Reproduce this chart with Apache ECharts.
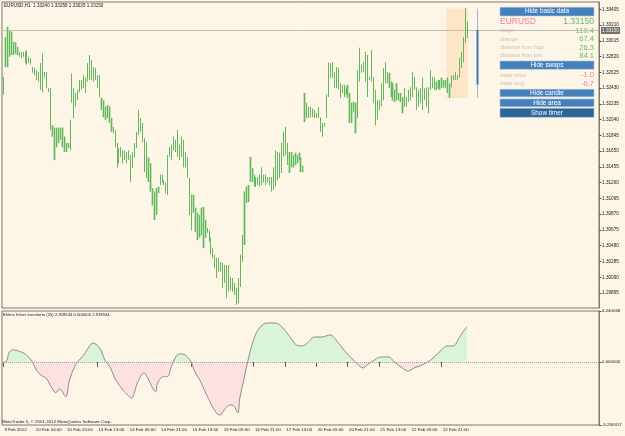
<!DOCTYPE html>
<html>
<head>
<meta charset="utf-8">
<title>EURUSD,H1</title>
<script src="https://cdn.jsdelivr.net/npm/echarts@6/dist/echarts.min.js"></script>
<style>
  html, body { margin: 0; padding: 0; background: #fdf5e6; }
  #chart { width: 625px; height: 436px; }
</style>
</head>
<body>
<div id="chart"></div>
<script>
// H1 bars, 9 Feb 2012 12:00 .. 23 Feb 2012 10:00 (high / low)
const highs = [
  1.3257, 1.3306, 1.3319, 1.3315, 1.3313, 1.3300, 1.3300, 1.3294, 1.3288, 1.3288,
  1.3288, 1.3288, 1.3290, 1.3282, 1.3280, 1.3269, 1.3268, 1.3265, 1.3263, 1.3274,
  1.3286, 1.3263, 1.3263, 1.3243, 1.3243, 1.3197, 1.3194, 1.3194, 1.3194, 1.3194,
  1.3194, 1.3183, 1.3175, 1.3175, 1.3204, 1.3261, 1.3243, 1.3237, 1.3241, 1.3253,
  1.3253, 1.3259, 1.3256, 1.3274, 1.3284, 1.3278, 1.3269, 1.3268, 1.3259, 1.3259,
  1.3231, 1.3228, 1.3220, 1.3222, 1.3220, 1.3206, 1.3195, 1.3191, 1.3175, 1.3169,
  1.3170, 1.3166, 1.3166, 1.3164, 1.3166, 1.3160, 1.3164, 1.3175, 1.3189, 1.3216,
  1.3206, 1.3200, 1.3181, 1.3176, 1.3157, 1.3150, 1.3119, 1.3115, 1.3119, 1.3121,
  1.3136, 1.3136, 1.3129, 1.3126, 1.3160, 1.3170, 1.3173, 1.3183, 1.3179, 1.3191,
  1.3173, 1.3183, 1.3179, 1.3164, 1.3158, 1.3132, 1.3111, 1.3111, 1.3095, 1.3089,
  1.3086, 1.3095, 1.3096, 1.3080, 1.3070, 1.3067, 1.3058, 1.3045, 1.3037, 1.3033,
  1.3033, 1.3028, 1.3027, 1.3024, 1.3024, 1.3024, 1.3009, 1.3008, 1.3002, 1.2996,
  1.3008, 1.3037, 1.3061, 1.3115, 1.3121, 1.3123, 1.3158, 1.3144, 1.3136, 1.3133,
  1.3133, 1.3136, 1.3145, 1.3136, 1.3136, 1.3133, 1.3133, 1.3133, 1.3145, 1.3166,
  1.3164, 1.3163, 1.3175, 1.3189, 1.3195, 1.3175, 1.3164, 1.3164, 1.3160, 1.3163,
  1.3160, 1.3163, 1.3157, 1.3147, 1.3237, 1.3225, 1.3220, 1.3220, 1.3218, 1.3216,
  1.3212, 1.3220, 1.3207, 1.3200, 1.3200, 1.3235, 1.3275, 1.3274, 1.3275, 1.3263,
  1.3269, 1.3268, 1.3249, 1.3247, 1.3247, 1.3244, 1.3247, 1.3237, 1.3225, 1.3226,
  1.3225, 1.3265, 1.3293, 1.3272, 1.3275, 1.3288, 1.3284, 1.3257, 1.3290, 1.3257,
  1.3241, 1.3228, 1.3228, 1.3249, 1.3268, 1.3275, 1.3263, 1.3262, 1.3251, 1.3249,
  1.3241, 1.3249, 1.3237, 1.3237, 1.3232, 1.3243, 1.3232, 1.3241, 1.3244, 1.3263,
  1.3257, 1.3244, 1.3241, 1.3243, 1.3256, 1.3243, 1.3244, 1.3244, 1.3265, 1.3257,
  1.3256, 1.3251, 1.3253, 1.3253, 1.3256, 1.3253, 1.3253, 1.3256, 1.3249, 1.3259,
  1.3259, 1.3263, 1.3259, 1.3280, 1.3288, 1.3306, 1.3342, 1.3325
]
const lows = [
  1.3235, 1.3269, 1.3269, 1.3282, 1.3284, 1.3284, 1.3286, 1.3284, 1.3282, 1.3280,
  1.3282, 1.3274, 1.3272, 1.3274, 1.3272, 1.3262, 1.3259, 1.3253, 1.3251, 1.3241,
  1.3238, 1.3256, 1.3243, 1.3238, 1.3191, 1.3183, 1.3154, 1.3170, 1.3175, 1.3179,
  1.3170, 1.3164, 1.3164, 1.3169, 1.3166, 1.3225, 1.3206, 1.3220, 1.3228, 1.3238,
  1.3241, 1.3243, 1.3237, 1.3251, 1.3253, 1.3253, 1.3251, 1.3253, 1.3243, 1.3232,
  1.3216, 1.3207, 1.3204, 1.3206, 1.3200, 1.3189, 1.3187, 1.3170, 1.3145, 1.3150,
  1.3158, 1.3150, 1.3154, 1.3150, 1.3154, 1.3127, 1.3144, 1.3157, 1.3169, 1.3185,
  1.3189, 1.3176, 1.3139, 1.3132, 1.3127, 1.3115, 1.3098, 1.3080, 1.3086, 1.3113,
  1.3123, 1.3126, 1.3123, 1.3113, 1.3111, 1.3158, 1.3154, 1.3166, 1.3164, 1.3158,
  1.3154, 1.3158, 1.3145, 1.3145, 1.3132, 1.3086, 1.3067, 1.3089, 1.3065, 1.3055,
  1.3058, 1.3061, 1.3045, 1.3058, 1.3064, 1.3053, 1.3037, 1.3033, 1.3020, 1.3008,
  1.3016, 1.3016, 1.2996, 1.3002, 1.2983, 1.2991, 1.2993, 1.2991, 1.2987, 1.2975,
  1.2977, 1.2997, 1.3028, 1.3049, 1.3101, 1.3102, 1.3127, 1.3127, 1.3121, 1.3121,
  1.3123, 1.3121, 1.3123, 1.3126, 1.3123, 1.3126, 1.3123, 1.3115, 1.3117, 1.3121,
  1.3129, 1.3132, 1.3138, 1.3158, 1.3160, 1.3148, 1.3138, 1.3145, 1.3145, 1.3148,
  1.3150, 1.3154, 1.3139, 1.3139, 1.3201, 1.3206, 1.3206, 1.3207, 1.3207, 1.3206,
  1.3206, 1.3206, 1.3189, 1.3183, 1.3195, 1.3206, 1.3232, 1.3256, 1.3256, 1.3243,
  1.3243, 1.3241, 1.3231, 1.3237, 1.3232, 1.3235, 1.3231, 1.3200, 1.3200, 1.3214,
  1.3187, 1.3206, 1.3251, 1.3262, 1.3263, 1.3251, 1.3232, 1.3253, 1.3251, 1.3225,
  1.3197, 1.3204, 1.3216, 1.3220, 1.3228, 1.3249, 1.3249, 1.3243, 1.3232, 1.3228,
  1.3226, 1.3228, 1.3228, 1.3226, 1.3212, 1.3220, 1.3220, 1.3226, 1.3228, 1.3232,
  1.3241, 1.3216, 1.3220, 1.3225, 1.3216, 1.3228, 1.3220, 1.3212, 1.3241, 1.3243,
  1.3241, 1.3241, 1.3243, 1.3241, 1.3243, 1.3244, 1.3243, 1.3237, 1.3231, 1.3244,
  1.3253, 1.3253, 1.3253, 1.3256, 1.3268, 1.3275, 1.3299, 1.3305
]
// runs of bars drawn with the light green band behind them
const shadedRuns = [[1, 7], [25, 33], [50, 55], [74, 79], [97, 103], [123, 127], [146, 154], [175, 180], [197, 204], [221, 228]]

// today (23 Feb) from the info panel
const dayStart = 227
const dayOpen = 1.32476
const dayHigh = 1.33413
const dayLow = 1.32309
const bidPrice = 1.33150
const candleSlot = 242

// Ehlers fisher transform (25): [bar index, value]
const fisherPoints = [
  [0, -0.1], [2, 0.1], [3, 0.74], [5, 0.99], [9, 0.84], [12, 0.57], [15, 0.0], [17, -0.69], [20, -1.19],
  [22, -1.35], [25, -2.19], [27, -2.58], [29, -2.27], [32, -2.92], [34, -1.52], [37, -0.27], [39, 0.15],
  [42, 0.74], [44, 1.26], [46, 1.57], [48, 1.40], [50, 0.99], [52, 0.15], [55, -0.52], [57, -1.35],
  [60, -2.08], [62, -2.50], [66, -3.02], [67, -2.61], [69, -1.66], [72, -0.94], [74, -1.35], [76, -2.08],
  [78, -2.50], [79, -1.77], [82, -1.24], [84, -1.24], [86, -0.41], [88, 0.32], [90, 0.65], [93, 0.57],
  [96, 0.0], [98, -0.83], [101, -1.66], [104, -2.77], [109, -4.28], [111, -4.44], [113, -4.03], [116, -3.61],
  [118, -3.69], [120, -4.28], [121, -3.02], [123, -1.52], [125, 0.0], [128, 1.82], [131, 2.82], [135, 3.24],
  [139, 3.24], [143, 2.82], [147, 1.99], [150, 1.40], [153, 1.32], [156, 1.65], [159, 2.07], [163, 2.07],
  [167, 2.24], [171, 1.65], [175, 0.82], [178, 0.32], [181, -0.18], [184, -0.52], [186, -0.27], [189, 0.07],
  [193, 0.40], [197, 0.40], [200, -0.02], [204, -0.52], [207, -0.77], [210, -0.52], [213, -0.35], [217, -0.02],
  [221, 0.48], [224, 0.99], [227, 1.32], [230, 1.32], [233, 1.99], [235, 2.49], [237, 2.918534]
]

const timeLabels = ['9 Feb 2012', '10 Feb 04:00', '10 Feb 20:00', '13 Feb 13:00', '14 Feb 05:00', '14 Feb 21:00',
  '15 Feb 13:00', '16 Feb 05:00', '16 Feb 21:00', '17 Feb 13:00', '20 Feb 05:00', '20 Feb 21:00',
  '21 Feb 13:00', '22 Feb 05:00', '22 Feb 21:00']
const priceTicks = [1.33405, 1.33210, 1.33015, 1.32820, 1.32625, 1.32430, 1.32235, 1.32040, 1.31845, 1.31650,
  1.31455, 1.31260, 1.31065, 1.30870, 1.30675, 1.30480, 1.30285, 1.30090, 1.29895]
const priceMin = 1.29709
const priceMax = 1.33496
const fisherMin = -5.280317
const fisherMax = 4.240068
const fisherTicks = [fisherMin, 0, fisherMax]

const panelRows = [
  { label: 'range', value: '110.4', y: 30.7 },
  { label: 'change', value: '67.4', y: 39.3 },
  { label: 'distance from high', value: '26.3', y: 47.7 },
  { label: 'distance from low', value: '84.1', y: 55.7 }
]
const swapRows = [
  { label: 'swap short', value: '-1.0', y: 75.3 },
  { label: 'swap long', value: '-0.7', y: 84 }
]
const panelButtons = [
  { text: 'Hide basic data', y: 7.3, h: 8.7 },
  { text: 'Hide swaps', y: 61, h: 8.3 },
  { text: 'Hide candle', y: 89.3, h: 7.5 },
  { text: 'Hide area', y: 99, h: 7.7 },
  { text: 'Show timer', y: 108.3, h: 9, dark: true }
]

const slotCount = 305
const labelStep = 16
const barCount = highs.length
const mainGrid = { left: 2, top: 2, width: 597, height: 306 }
const subGrid = { left: 2, top: 311, width: 597, height: 114 }

const bgColor = '#fdf5e6'
const frameColor = '#80796e'
const barColor = '#63b75e'
const shadeColor = '#c2e1b0'
const font = 'Liberation Sans, Arial, sans-serif'

const slots = Array.from({ length: slotCount }, (_, i) => String(i))
const barData = highs.map((h, i) => [i, h, lows[i]])
const shadeData = []
shadedRuns.forEach(([a, b]) => {
  for (let i = a; i <= b; i++) shadeData.push([i, highs[i], lows[i]])
})

function renderBar(params, api) {
  const top = api.coord([api.value(0), api.value(1)])
  const bottom = api.coord([api.value(0), api.value(2)])
  const x = Math.round(top[0]) + 0.5
  return {
    type: 'line',
    shape: { x1: x, y1: top[1], x2: x, y2: bottom[1] },
    style: { stroke: barColor, lineWidth: 1 }
  }
}

function renderShade(params, api) {
  const top = api.coord([api.value(0), api.value(1)])
  const bottom = api.coord([api.value(0), api.value(2)])
  const x = Math.round(top[0]) - 1
  return {
    type: 'rect',
    shape: { x: x, y: top[1], width: 3, height: bottom[1] - top[1] },
    style: { fill: shadeColor }
  }
}

function renderArea(params, api) {
  const w = api.size([1, 0])[0]
  const p1 = api.coord([api.value(0), api.value(2)])
  const p2 = api.coord([api.value(1), api.value(3)])
  return {
    type: 'rect',
    shape: { x: p1[0] - w / 2, y: p1[1], width: p2[0] - p1[0] + w, height: p2[1] - p1[1] },
    style: { fill: '#fde6c8' }
  }
}

// current price line across the window, with its box on the price scale
function renderBid(params, api) {
  const cs = params.coordSys
  const y = Math.round(api.coord([0, api.value(1)])[1]) + 0.5
  const right = cs.x + cs.width
  return {
    type: 'group',
    children: [
      { type: 'line', shape: { x1: cs.x, y1: y, x2: right, y2: y }, style: { stroke: '#c6beb4', lineWidth: 1 } },
      { type: 'rect', shape: { x: right + 2, y: y - 3.5, width: 19, height: 7 }, style: { fill: '#707070' } },
      {
        type: 'text', x: right + 11.5, y: y,
        style: { text: api.value(1).toFixed(5), fill: '#f2f2f2', font: '4.7px ' + font, align: 'center', verticalAlign: 'middle', textAlign: 'center', textVerticalAlign: 'middle' }
      }
    ]
  }
}

function renderCandle(params, api) {
  const x = Math.round(api.coord([api.value(0), 0])[0]) + 0.5
  const o = api.coord([api.value(0), api.value(1)])[1]
  const c = api.coord([api.value(0), api.value(2)])[1]
  const l = api.coord([api.value(0), api.value(3)])[1]
  const h = api.coord([api.value(0), api.value(4)])[1]
  return {
    type: 'group',
    children: [
      { type: 'line', shape: { x1: x, y1: h, x2: x, y2: l }, style: { stroke: '#9fb3cc', lineWidth: 1 } },
      { type: 'rect', shape: { x: x - 1, y: Math.min(o, c), width: 2, height: Math.abs(o - c) }, style: { fill: '#3d78b6' } }
    ]
  }
}

function txt(text, x, y, size, color, align) {
  return {
    type: 'text', x: x, y: y, silent: true,
    style: {
      text: text, fill: color, font: size + 'px ' + font,
      textAlign: align || 'left', textVerticalAlign: 'middle',
      align: align || 'left', verticalAlign: 'middle'
    }
  }
}

const panelLeft = 500
const panelRight = 594
const graphics = [
  txt('EURUSD,H1  1.33240 1.33258 1.33035 1.33150', 4, 6, 4.6, '#222'),
  txt('Ehlers fisher transform (25) 2.918534 0.000000 2.918534', 3, 314.5, 4.2, '#222'),
  txt('MetaTrader 5, \u00a9 2001-2012 MetaQuotes Software Corp.', 2, 421.5, 4.4, '#222'),
  txt('EURUSD', panelLeft, 22, 8.5, '#f27a94'),
  txt('1.33150', panelRight, 22, 8.5, '#62bd6c', 'right')
]
panelRows.forEach(r => {
  graphics.push(txt(r.label, panelLeft, r.y, 5.4, '#c9c3bb'))
  graphics.push(txt(r.value, panelRight, r.y, 7.6, '#62bd6c', 'right'))
})
swapRows.forEach(r => {
  graphics.push(txt(r.label, panelLeft, r.y, 5.4, '#c9c3bb'))
  graphics.push(txt(r.value, panelRight, r.y, 7.6, '#f27a94', 'right'))
})
panelButtons.forEach(b => {
  graphics.push({
    type: 'rect', silent: true,
    shape: { x: panelLeft, y: b.y, width: panelRight - panelLeft, height: b.h },
    style: { fill: b.dark ? '#2c6399' : '#4580bd', stroke: '#a9c2dc', lineWidth: 0.6 }
  })
  graphics.push(txt(b.text, (panelLeft + panelRight) / 2, b.y + b.h / 2, 6.4, '#ffffff', 'center'))
})

const zeroAt = fisherMax / (fisherMax - fisherMin)
const fisherFill = new echarts.graphic.LinearGradient(0, subGrid.top, 0, subGrid.top + subGrid.height, [
  { offset: 0, color: '#d9f4d6' },
  { offset: zeroAt, color: '#d9f4d6' },
  { offset: zeroAt, color: '#fde0e0' },
  { offset: 1, color: '#fde0e0' }
], true)

const chart = echarts.init(document.getElementById('chart'), null, { renderer: 'canvas' })
const option = {
  animation: false,
  backgroundColor: bgColor,
  textStyle: { fontFamily: font },
  grid: [
    Object.assign({ show: true, borderColor: frameColor, borderWidth: 1, backgroundColor: 'transparent', outerBoundsMode: 'none' }, mainGrid),
    Object.assign({ show: true, borderColor: frameColor, borderWidth: 1, backgroundColor: 'transparent', outerBoundsMode: 'none' }, subGrid)
  ],
  xAxis: [
    {
      type: 'category', gridIndex: 0, data: slots, boundaryGap: true,
      axisLine: { show: false }, axisTick: { show: false }, axisLabel: { show: false }, splitLine: { show: false }
    },
    {
      type: 'category', gridIndex: 1, data: slots, boundaryGap: true,
      axisLine: { show: false },
      axisTick: {
        show: true, alignWithLabel: true, length: 5, lineStyle: { color: '#555', width: 1 },
        interval: (i) => i % labelStep === 0 && i < barCount
      },
      axisLabel: {
        show: true, interval: (i) => i % labelStep === 0 && i < barCount,
        formatter: (v) => timeLabels[Number(v) / labelStep] || '',
        fontSize: 4.4, color: '#222', align: 'left', verticalAlign: 'top', margin: 2.5, padding: [0, 0, 0, 1.5]
      },
      splitLine: { show: false }
    }
  ],
  yAxis: [
    {
      type: 'value', gridIndex: 0, position: 'right', min: priceMin, max: priceMax,
      axisLine: { show: true, lineStyle: { color: frameColor } },
      axisTick: { show: true, length: 2.5, customValues: priceTicks, lineStyle: { color: '#555' } },
      axisLabel: { show: true, customValues: priceTicks, formatter: (v) => v.toFixed(5), fontSize: 4.7, color: '#222', margin: 3 },
      splitLine: { show: false }
    },
    {
      type: 'value', gridIndex: 1, position: 'right', min: fisherMin, max: fisherMax,
      axisLine: { show: true, lineStyle: { color: frameColor } },
      axisTick: { show: true, length: 2.5, customValues: fisherTicks, lineStyle: { color: '#555' } },
      axisLabel: { show: true, customValues: fisherTicks, formatter: (v) => v.toFixed(6), fontSize: 4.4, color: '#222', margin: 3 },
      splitLine: { show: false }
    }
  ],
  graphic: { elements: graphics },
  series: [
    {
      name: 'area', type: 'custom', xAxisIndex: 0, yAxisIndex: 0, silent: true,
      renderItem: renderArea, data: [[dayStart, barCount - 1, dayHigh, dayLow]], z: 1
    },
    {
      name: 'bid', type: 'custom', xAxisIndex: 0, yAxisIndex: 0, silent: true, clip: false,
      renderItem: renderBid, data: [[0, bidPrice]], z: 2
    },
    {
      name: 'shade', type: 'custom', xAxisIndex: 0, yAxisIndex: 0, silent: true,
      renderItem: renderShade, data: shadeData, z: 3
    },
    {
      name: 'EURUSD', type: 'custom', xAxisIndex: 0, yAxisIndex: 0, silent: true,
      renderItem: renderBar, data: barData, z: 4
    },
    {
      name: 'candle', type: 'custom', xAxisIndex: 0, yAxisIndex: 0, silent: true,
      renderItem: renderCandle, data: [[candleSlot, dayOpen, bidPrice, dayLow, dayHigh]], z: 5
    },
    {
      name: 'Ehlers fisher transform', type: 'line', xAxisIndex: 1, yAxisIndex: 1,
      data: fisherPoints, smooth: 0.35, symbol: 'none', silent: true,
      lineStyle: { color: '#8e8e8e', width: 1 },
      areaStyle: { color: fisherFill, opacity: 1 },
      markLine: {
        silent: true, symbol: 'none', animation: false,
        lineStyle: { color: '#a9a39a', type: 'dotted', width: 1 },
        label: { show: false },
        data: [{ yAxis: 0 }]
      }
    }
  ]
}
chart.setOption(option)
</script>
</body>
</html>
